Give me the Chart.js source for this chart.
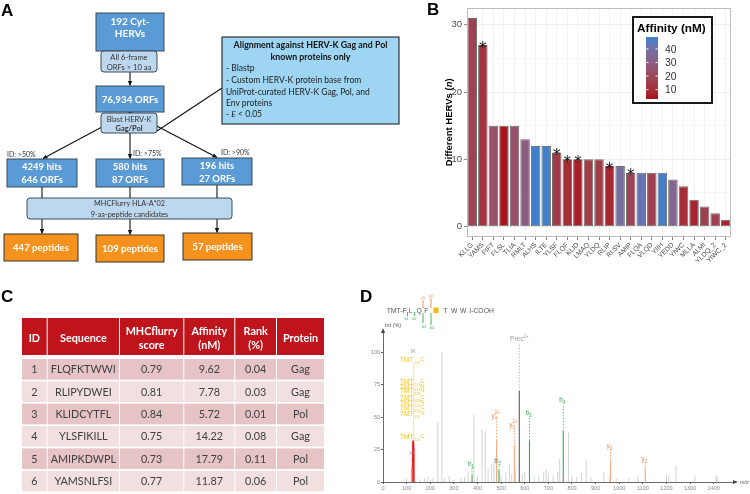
<!DOCTYPE html>
<html><head><meta charset="utf-8">
<script src="https://cdn.jsdelivr.net/npm/chart.js@4.4.1/dist/chart.umd.min.js"></script>
<style>
html,body{margin:0;padding:0;background:#fff;width:750px;height:494px;overflow:hidden;}
#wrap{position:relative;width:750px;height:494px;}
canvas{position:absolute;}
#svg{position:absolute;left:0;top:0;pointer-events:none;}
</style></head><body>
<div id="wrap">
<canvas id="chartB" width="350" height="262" style="left:400px;top:0px"></canvas>
<canvas id="chartD" width="380" height="172" style="left:370px;top:322px"></canvas>
<svg id="svg" width="750" height="494" xmlns="http://www.w3.org/2000/svg"></svg>
</div>
<script>
// ---------- Panel B data ----------
const peptides = ['KLLG','YAMS','FIFT','FLSL','TLIA','RMLT','ALHS','ILTE','YLSF','FLQF','KLID','LMAQ','YLDQ','RLIP','RLSV','AMIP','FLQA','VLQD','YIIH','YEDD','YIWC','MLLA','ALMI','YLDQ_2','YIWC_2'];
const hervCounts = [31,27,15,15,15,13,12,12,11,10,10,10,10,9,9,8,8,8,8,7,6,4,3,2,1];
const affinityNM = [17,11.87,24,3.5,24,30,48,48,14.22,9.62,5.72,15,15,7.78,38,17.79,42,17,48,34,10,7,16,16,7];
const starred = [0,1,0,0,0,0,0,0,1,1,1,0,0,1,0,1,0,0,0,0,0,0,0,0,0];
const yTicksB = [0,5,10,15,20,25,30];
const affinityTicks = [10,20,30,40];
const affinityLimits = [3.1,48.8];

// ---------- Panel C data ----------
const tableHeader = [['ID'],['Sequence'],['MHCflurry','score'],['Affinity','(nM)'],['Rank','(%)'],['Protein']];
const tableIds = ['1','2','3','4','5','6'];
const tableSeqs = ['FLQFKTWWI','RLIPYDWEI','KLIDCYTFL','YLSFIKILL','AMIPKDWPL','YAMSNLFSI'];
const tableScores = ['0.79','0.81','0.84','0.75','0.73','0.77'];
const tableAffinity = ['9.62','7.78','5.72','14.22','17.79','11.87'];
const tableRank = ['0.04','0.03','0.01','0.08','0.11','0.06'];
const tableProtein = ['Gag','Gag','Pol','Gag','Pol','Pol'];

// ---------- Panel D data ----------
const grayMz  = [100,155,175,190,200,212,232,249,262,280,300,330,345,360,385,400,419,433,445,460,470,500,520,535,545,560,590,600,640,660,680,690,700,720,740,748,760,785,800,820,840,860,880,935,960,990,1040,1080,1110,1200,1210,1240,1320,1410,1415];
const grayInt = [3,2,3,4,2,3,46,100,3,5,2,3,4,8,52,5,40,39,10,14,18,5,8,14,6,9,6,8,4,5,8,10,7,5,8,18,6,38,5,4,7,17,4,8,4,3,3,4,2,6,5,13,5,5,4];
const pinkMz = [121]; const pinkInt = [12];
const reporterMz = [126,127,128,129,130,131];
const reporterInt = [31,32,30,32,29,26];
const precMz = [577]; const precInt = [70]; const precLabelY = [110];
const bIonMz = [377,491,620,763]; const bIonInt = [5,9,32,39];
const bIonSub = ['1','2','3','4']; const bIonLabelY = [14,16,53,63];
const yIonMz = [481,556,963,1110]; const yIonInt = [32,27,15,10];
const yIonSub = ['4','5','3','2']; const yIonSup = ['2+','2+','','']; const yIonLabelY = [51,44,28,18];
const tmtLabelY = [94,77,73,70,65,61,57,52,35];
const tmtLabelSub = ['126','127','127','128','128','129','129','130','131'];
const tmtLabelSup = ['C','C','N','N','C','N','C','N','C'];
const xTicksD = [0,100,200,300,400,500,600,700,800,900,1000,1100,1200,1300,1400];
const yTicksD = [0,25,50,75,100];

// ---------- colour scale (Lab interpolation) ----------
function hex2rgb(h){return [parseInt(h.slice(1,3),16),parseInt(h.slice(3,5),16),parseInt(h.slice(5,7),16)];}
function s2l(c){c/=255;return c<=0.04045?c/12.92:Math.pow((c+0.055)/1.055,2.4);}
function l2s(c){c=c<=0.0031308?12.92*c:1.055*Math.pow(c,1/2.4)-0.055;return Math.max(0,Math.min(255,Math.round(c*255)));}
function toLab(hex){const [r,g,b]=hex2rgb(hex).map(s2l);
 const X=(0.4124*r+0.3576*g+0.1805*b)/0.95047,Y=0.2126*r+0.7152*g+0.0722*b,Z=(0.0193*r+0.1192*g+0.9505*b)/1.08883;
 const f=t=>t>0.008856?Math.cbrt(t):7.787*t+16/116;
 return [116*f(Y)-16,500*(f(X)-f(Y)),200*(f(Y)-f(Z))];}
function fromLab([L,a,b]){const fy=(L+16)/116,fx=fy+a/500,fz=fy-b/200;
 const fi=t=>t*t*t>0.008856?t*t*t:(t-16/116)/7.787;
 const X=fi(fx)*0.95047,Y=fi(fy),Z=fi(fz)*1.08883;
 const r=3.2406*X-1.5372*Y-0.4986*Z,g=-0.9689*X+1.8758*Y+0.0415*Z,bb=0.0557*X-0.2040*Y+1.0570*Z;
 return 'rgb('+l2s(r)+','+l2s(g)+','+l2s(bb)+')';}
const LOW=toLab('#a8121f'), HIGH=toLab('#3b80cb');
function fillFor(v){let t=(v-affinityLimits[0])/(affinityLimits[1]-affinityLimits[0]);t=Math.max(0,Math.min(1,t));
 return fromLab([0,1,2].map(i=>LOW[i]+(HIGH[i]-LOW[i])*t));}

// ---------- Chart B ----------
const frameB={id:'frameB',afterDraw(ch){const c=ch.ctx,a=ch.chartArea;c.save();c.strokeStyle='#bdbdbd';c.lineWidth=1;
 c.strokeRect(Math.round(a.left)+0.5,Math.round(a.top)+0.5,Math.round(a.right-a.left)-1,Math.round(a.bottom-a.top)-1);c.restore();}};
const yTitleB={id:'yTitleB',afterDraw(ch){const ctx=ch.ctx,a=ch.chartArea;ctx.save();ctx.translate(49,(a.top+a.bottom)/2);ctx.rotate(-Math.PI/2);
 ctx.fillStyle='#000';ctx.textBaseline='middle';ctx.textAlign='left';
 const parts=[['bold 9.5px "Liberation Sans"','Different HERVs ('],['italic bold 9.5px "Liberation Sans"','n'],['bold 9.5px "Liberation Sans"',')']];
 let w=0;parts.forEach(p=>{ctx.font=p[0];w+=ctx.measureText(p[1]).width;});let x=-w/2;
 parts.forEach(p=>{ctx.font=p[0];ctx.fillText(p[1],x,0);x+=ctx.measureText(p[1]).width;});ctx.restore();}};
const starsB={id:'starsB',afterDatasetsDraw(ch){const ctx=ch.ctx,meta=ch.getDatasetMeta(0);ctx.save();ctx.fillStyle='#111';
 ctx.font='15px "DejaVu Sans"';ctx.textAlign='center';ctx.textBaseline='alphabetic';
 meta.data.forEach((el,i)=>{if(starred[i])ctx.fillText('*',el.x,el.y+7.5);});ctx.restore();}};

new Chart(document.getElementById('chartB'),{
 type:'bar',
 data:{labels:peptides,datasets:[{data:hervCounts,backgroundColor:affinityNM.map(fillFor),borderColor:'#707070',borderWidth:1,borderSkipped:false,barPercentage:0.9,categoryPercentage:1}]},
 options:{responsive:false,animation:false,events:[],
  layout:{padding:{left:43,right:19,top:3,bottom:0}},
  plugins:{legend:{display:false},tooltip:{enabled:false}},
  scales:{
   x:{offset:true,grid:{offset:false,color:'#ececec',lineWidth:0.7,tickLength:3,tickColor:'#555'},border:{display:false},
      ticks:{autoSkip:false,maxRotation:45,minRotation:45,font:{family:'Liberation Sans',size:6.8},color:'#4d4d4d',padding:1},
      afterFit:s=>{s.height=25;}},
   y:{min:-1.55,max:32.55,afterBuildTicks:s=>{s.ticks=yTicksB.map(v=>({value:v}));},
      grid:{color:c=>(c.tick&&c.tick.value%10===0)?'#e8e8e8':'#f4f4f4',lineWidth:0.7,tickLength:3,
            tickColor:c=>(c.tick&&c.tick.value%10===0)?'#555':'rgba(0,0,0,0)'},
      border:{display:false},
      ticks:{callback:v=>v%10===0?String(v):'',font:{family:'Liberation Sans',size:9.5},color:'#4d4d4d',padding:2},
      afterFit:s=>{s.width=24;}}
  }},
 plugins:[frameB,yTitleB,starsB]
});

// ---------- Chart D ----------
const sticks=(mz,h)=>mz.flatMap((m,i)=>[{x:m,y:0},{x:m,y:h[i]},{x:m,y:null}]);
const dashes=(mz,a,b)=>mz.flatMap((m,i)=>[{x:m,y:a[i]},{x:m,y:b[i]},{x:m,y:null}]);
function ds(data,color,w,dash){return {data,borderColor:color,borderWidth:w,borderDash:dash||[],pointRadius:0,spanGaps:false,fill:false,tension:0};}
const tmtTop=[91], tmtBottom=[32];
const D_FONT='"Liberation Sans"';
function drawIon(ctx,x,y,base,sub,sup,color){
 ctx.fillStyle=color;ctx.textBaseline='alphabetic';
 ctx.font='6.5px '+D_FONT;const wb=ctx.measureText(base).width;
 ctx.font='4.5px '+D_FONT;const ws=ctx.measureText(sub).width, wp=ctx.measureText(sup).width;
 const total=wb+Math.max(ws,wp);let x0=x-total/2;
 ctx.font='6.5px '+D_FONT;ctx.textAlign='left';ctx.fillText(base,x0,y+2);
 ctx.font='4.5px '+D_FONT;if(sub)ctx.fillText(sub,x0+wb,y+4);if(sup)ctx.fillText(sup,x0+wb,y-1.5);}
const labelsD={id:'labelsD',afterDraw(ch){const ctx=ch.ctx,xs=ch.scales.x,ys=ch.scales.y,a=ch.chartArea;ctx.save();
 ctx.fillStyle='#444';ctx.beginPath();ctx.moveTo(a.left,a.top-2);ctx.lineTo(a.left-2,a.top+3);ctx.lineTo(a.left+2,a.top+3);ctx.fill();
 ctx.beginPath();ctx.moveTo(a.right+3,a.bottom);ctx.lineTo(a.right-2,a.bottom-2);ctx.lineTo(a.right-2,a.bottom+2);ctx.fill();
 ctx.font='5.5px '+D_FONT;ctx.fillStyle='#555';ctx.textAlign='left';ctx.fillText('Int (%)',a.left+2,a.top-3);
 ctx.font='italic 5.5px '+D_FONT;ctx.fillText('m/z',a.right+5,a.bottom+2);
 bIonMz.forEach((m,i)=>drawIon(ctx,xs.getPixelForValue(m)-1,ys.getPixelForValue(bIonLabelY[i]),'b',bIonSub[i],'','#3aa655'));
 yIonMz.forEach((m,i)=>drawIon(ctx,xs.getPixelForValue(m)-1,ys.getPixelForValue(yIonLabelY[i]),'y',yIonSub[i],yIonSup[i],'#f08a4b'));
 drawIon(ctx,xs.getPixelForValue(precMz[0]),ys.getPixelForValue(precLabelY[0]),'Prec','','2+','#a0a0a0');
 ctx.font='5.5px '+D_FONT;ctx.fillStyle='#a0a0a0';ctx.textAlign='center';
 ctx.fillText('IK',xs.getPixelForValue(128),ys.getPixelForValue(99));
 ctx.fillText('IF',xs.getPixelForValue(121),ys.getPixelForValue(21));
 tmtLabelY.forEach((v,i)=>{const x0=xs.getPixelForValue(72),y=ys.getPixelForValue(v)+2;ctx.fillStyle='#f5c21b';ctx.textAlign='left';
  ctx.font='6.5px '+D_FONT;ctx.fillText('TMT',x0,y);const w=ctx.measureText('TMT').width;
  ctx.font='3.5px '+D_FONT;ctx.fillText(tmtLabelSub[i],x0+w+1,y+2);
  ctx.font='6px '+D_FONT;ctx.fillText(tmtLabelSup[i],x0+w+7,y-1);});
 ctx.restore();}};
new Chart(document.getElementById('chartD'),{
 type:'line',
 data:{datasets:[
  ds(sticks(grayMz,grayInt),'#d2d2d2',1),
  ds(sticks(pinkMz,pinkInt),'#f29a9a',1.5),
  ds(sticks(reporterMz,reporterInt),'#e3201c',1.4),
  ds(dashes([130],tmtBottom,tmtTop),'#f5c21b',1,[1,1]),
  ds(sticks(precMz,precInt),'#5e5e5e',1.1),
  ds(dashes(precMz,precInt,[107]),'#a8a8a8',0.8,[1.5,1.5]),
  ds(sticks(bIonMz,bIonInt),'#3aa655',1.1),
  ds(dashes(bIonMz,bIonInt,bIonLabelY.map(v=>v-3)),'#3aa655',0.8,[1.5,1.5]),
  ds(sticks(yIonMz,yIonInt),'#f4a57a',1.1),
  ds(dashes(yIonMz,yIonInt,yIonLabelY.map(v=>v-3)),'#f08a4b',0.8,[1.5,1.5]),
  ds(dashes([121],[13],[19]),'#a8a8a8',0.8,[1,1])
 ]},
 options:{responsive:false,animation:false,events:[],
  layout:{padding:{left:0,right:15,top:8,bottom:0}},
  plugins:{legend:{display:false},tooltip:{enabled:false}},
  scales:{
   x:{type:'linear',min:0,max:1490,afterBuildTicks:s=>{s.ticks=xTicksD.map(v=>({value:v}));},
      grid:{drawOnChartArea:false,tickLength:2,color:'#666'},border:{color:'#444',width:0.8},
      ticks:{callback:v=>String(v),font:{family:'Liberation Sans',size:5.5},color:'#888',padding:1,maxRotation:0,autoSkip:false},
      afterFit:s=>{s.height=12;}},
   y:{min:0,max:117,afterBuildTicks:s=>{s.ticks=yTicksD.map(v=>({value:v}));},
      grid:{drawOnChartArea:false,tickLength:2,color:'#666'},border:{color:'#444',width:0.8},
      ticks:{callback:v=>String(v),font:{family:'Liberation Sans',size:5.5},color:'#888',padding:1},
      afterFit:s=>{s.width=13;}}
  }},
 plugins:[labelsD]
});

// ---------- SVG: panel A, table C, legend B, header D ----------
let S='';
const F='Lato, "Open Sans", sans-serif';
S+='<defs><marker id="ah" markerUnits="userSpaceOnUse" markerWidth="5" markerHeight="5" refX="4.5" refY="2.5" orient="auto"><path d="M0,0.3 L5,2.5 L0,4.7 z" fill="#111"/></marker>';
S+='<linearGradient id="cbar" x1="0" y1="0" x2="0" y2="1">';
for(let k=0;k<=20;k++){const v=affinityLimits[1]-(affinityLimits[1]-affinityLimits[0])*k/20;S+='<stop offset="'+(k/20)+'" stop-color="'+fillFor(v)+'"/>';}
S+='</linearGradient></defs>';
function rect(x,y,w,h,fill,stroke,rx,sw){S+='<rect x="'+x+'" y="'+y+'" width="'+w+'" height="'+h+'" fill="'+fill+'" stroke="'+(stroke||'none')+'" stroke-width="'+(sw||1)+'" rx="'+(rx||0)+'"/>';}
function txt(x,y,s,size,opts){opts=opts||{};S+='<text x="'+x+'" y="'+y+'" font-family=\''+(opts.family||F)+'\' font-size="'+size+'" font-weight="'+(opts.bold?'bold':'normal')+'" fill="'+(opts.fill||'#222')+'" text-anchor="'+(opts.anchor||'middle')+'"'+(opts.italic?' font-style="italic"':'')+'>'+s+'</text>';}
function ln(x1,y1,x2,y2,arrow,w){S+='<line x1="'+x1+'" y1="'+y1+'" x2="'+x2+'" y2="'+y2+'" stroke="#111" stroke-width="'+(w||1.1)+'"'+(arrow?' marker-end="url(#ah)"':'')+'/>';}
const P='font-family:"Liberation Sans",Arial,sans-serif';
function panelLetter(x,y,s){S+='<text x="'+x+'" y="'+y+'" style=\''+P+'\' font-size="17" font-weight="bold" fill="#000">'+s+'</text>';}
panelLetter(1,16,'A');panelLetter(427,15,'B');panelLetter(1,302,'C');panelLetter(360,302,'D');

ln(130,112,43,158.5,true);ln(130,112,217,157.5,true);
ln(130,133,130,158.5,true);ln(157,131,222,88);
ln(130,72,130,85.5,true);
ln(42,187,42,198);ln(130,187,130,198);ln(217,185,217,198);
ln(42,219,42,233.5,true);ln(130,219,130,234.5,true);ln(217,219,217,232.5,true);
const BLUE='#5b9bd5',LIGHT='#bdd7ee',ORANGE='#f5921e',SKY='#9dd5f3',BORD='#3b4a5a';
rect(96,13,68,38,BLUE,BORD);txt(130,24.5,'192 Cyt-',10,{bold:1,fill:'#fff'});txt(130,37,'HERVs',10,{bold:1,fill:'#fff'});
rect(101,51,56,21,LIGHT,BORD,3);txt(129,60,'All 6-frame',7.6,{fill:'#333'});txt(129,69.8,'ORFs &gt; 10 aa',7.6,{fill:'#333'});
rect(96,86,68,26,BLUE,BORD);txt(130,102.5,'76,934 ORFs',9.8,{bold:1,fill:'#fff'});
rect(101,113,56,20,LIGHT,BORD,3);txt(129,121.6,'Blast HERV-K',7.4,{fill:'#333'});txt(129,131,'Gag/Pol',7.4,{bold:1,fill:'#333'});
rect(222,37,177,87,SKY,'#333',0,1.2);
txt(310.5,48,'Alignment against HERV-K Gag and Pol',8.8,{bold:1,fill:'#111'});
txt(310.5,60,'known proteins only',8.8,{bold:1,fill:'#111'});
txt(226,71,'- Blastp',8.5,{anchor:'start',fill:'#222'});
txt(226,83,'- Custom HERV-K protein base from',8.5,{anchor:'start',fill:'#222'});
txt(226,94.5,'UniProt-curated HERV-K Gag, Pol, and',8.5,{anchor:'start',fill:'#222'});
txt(226,106,'Env proteins',8.5,{anchor:'start',fill:'#222'});
S+='<text x="226" y="117" font-family=\''+F+'\' font-size="8.5" fill="#222">- <tspan font-style="italic">E</tspan> &lt; 0.05</text>';
txt(7,157,'ID: &gt;50%',7,{anchor:'start',fill:'#333'});txt(133,155.5,'ID: &gt;75%',7,{anchor:'start',fill:'#333'});txt(221,154.5,'ID: &gt;90%',7,{anchor:'start',fill:'#333'});
rect(7,159,70,28,BLUE,BORD);txt(42,170,'4249 hits',9.5,{bold:1,fill:'#fff'});txt(42,183,'646 ORFs',9.5,{bold:1,fill:'#fff'});
rect(96,159,68,28,BLUE,BORD);txt(130,170,'580 hits',9.5,{bold:1,fill:'#fff'});txt(130,183,'87 ORFs',9.5,{bold:1,fill:'#fff'});
rect(182,158,70,27,BLUE,BORD);txt(217,169,'196 hits',9.5,{bold:1,fill:'#fff'});txt(217,181.8,'27 ORFs',9.5,{bold:1,fill:'#fff'});
rect(27,198,205,21,LIGHT,BORD,3);txt(129.5,206,'MHCFlurry HLA-A*02',7.3,{fill:'#333'});txt(129.5,216.5,'9-aa-peptide candidates',7.3,{fill:'#333'});
rect(4,234,74,27,ORANGE,'#333');txt(41,251,'447 peptides',9.6,{bold:1,fill:'#fff'});
rect(96,235,68,27,ORANGE,'#333');txt(130,251.8,'109 peptides',9.6,{bold:1,fill:'#fff'});
rect(183,233,69,27,ORANGE,'#333');txt(217.5,250,'57 peptides',9.6,{bold:1,fill:'#fff'});

// Legend B
rect(633,17,79,86,'#fff','#000',0,1.8);
S+='<text x="637" y="32" style=\''+P+'\' font-size="11.8" font-weight="bold" fill="#000">Affinity (nM)</text>';
const cbTop=37,cbBot=99,cbL=646,cbW=12;
rect(cbL,cbTop,cbW,cbBot-cbTop,'url(#cbar)');
affinityTicks.forEach(v=>{const y=cbBot-(v-affinityLimits[0])/(affinityLimits[1]-affinityLimits[0])*(cbBot-cbTop);
 S+='<line x1="'+cbL+'" y1="'+y+'" x2="'+(cbL+2.5)+'" y2="'+y+'" stroke="#fff" stroke-width="0.8"/>';
 S+='<line x1="'+(cbL+cbW-2.5)+'" y1="'+y+'" x2="'+(cbL+cbW)+'" y2="'+y+'" stroke="#fff" stroke-width="0.8"/>';
 S+='<text x="665" y="'+(y+3.7)+'" style=\''+P+'\' font-size="10.3" fill="#333">'+v+'</text>';});

// Table C
const colX=[22,47.7,120,184.3,235.3,277,325];
const cols=[tableIds,tableSeqs,tableScores,tableAffinity,tableRank,tableProtein];
for(let c=0;c<6;c++){const x=colX[c],w=colX[c+1]-x-1;
 rect(x,318,w,37,'#c0141d');
 const hd=tableHeader[c],cx=x+w/2;
 if(hd.length===1)txt(cx,342,hd[0],10.8,{bold:1,fill:'#fff'});else{txt(cx,334.5,hd[0],10.8,{bold:1,fill:'#fff'});txt(cx,349,hd[1],10.8,{bold:1,fill:'#fff'});}
 for(let r=0;r<6;r++){const y=359+r*22.35;rect(x,y,w,20.6,r%2===0?'#e6c4c6':'#f2dfe0');txt(cx,y+14.2,cols[c][r],10.8,{fill:'#404040'});}
}

// Panel D header sequence
const HF='"Liberation Sans",Arial,sans-serif';
function ht(x,s){S+='<text x="'+x+'" y="313" font-family=\''+HF+'\' font-size="6.8" fill="#555">'+s+'</text>';}
ht(386.7,'TMT-F');ht(408.7,'L');ht(416.5,'Q');ht(424.3,'F');ht(443.3,'T');ht(451,'W');ht(460,'W');ht(469.3,'I-COOH');
rect(433.3,307.5,5.2,5.5,'#f6b81b');
function mk(x,y1,y2,color){S+='<line x1="'+x+'" y1="'+y1+'" x2="'+x+'" y2="'+y2+'" stroke="'+color+'" stroke-width="0.9"/>';}
function tiny(x,y,s,color){S+='<text x="'+x+'" y="'+y+'" font-family=\''+HF+'\' font-size="3.6" fill="'+color+'" text-anchor="middle">'+s+'</text>';}
const G='#3aa655',O='#f08a4b';
mk(407.5,312,316,G);tiny(406.5,320,'b1',G);mk(414.5,312,316,G);tiny(414.5,320,'b2',G);
mk(423,313,323,G);tiny(424,327.5,'b3',G);mk(431,313,325,G);tiny(432,329,'b4',G);
mk(423,300,308,O);tiny(423,299,'y5',O);mk(431,298,308,O);tiny(431,297,'y4',O);
document.getElementById('svg').innerHTML=S;
</script>
</body></html>
